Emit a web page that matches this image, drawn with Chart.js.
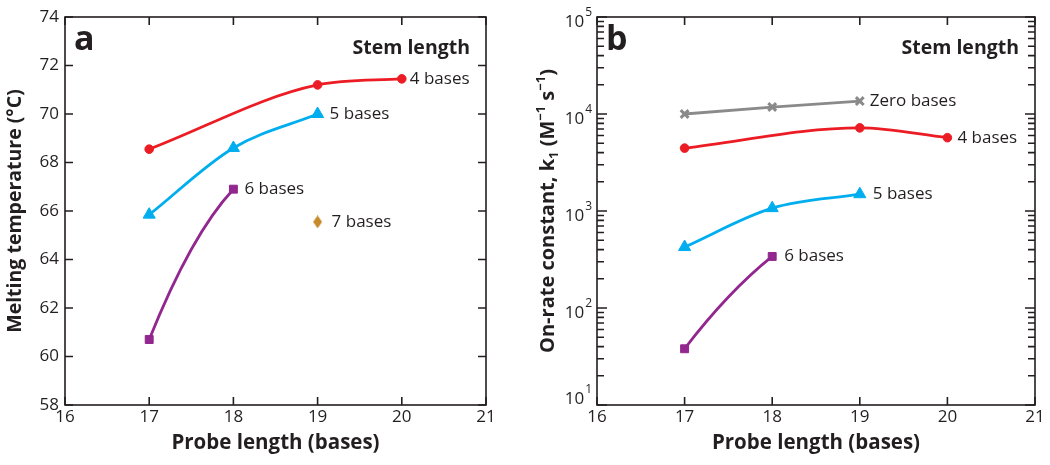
<!DOCTYPE html>
<html>
<head>
<meta charset="utf-8">
<script src="https://cdn.jsdelivr.net/npm/chart.js@4.4.1/dist/chart.umd.min.js"></script>
<style>
  html, body { margin: 0; padding: 0; background: #fff; }
  #wrap { position: relative; width: 1050px; height: 465px; }
  .panel { position: absolute; top: 0; width: 525px; height: 465px; }
</style>
</head>
<body>
<div id="wrap">
  <div class="panel" style="left:0"><canvas id="chartA" width="525" height="465"></canvas></div>
  <div class="panel" style="left:525px"><canvas id="chartB" width="525" height="465"></canvas></div>
</div>
<script>
// axis ticks
var probeTicks = [16, 17, 18, 19, 20, 21];
var tmTicks = [58, 60, 62, 64, 66, 68, 70, 72, 74];
var kTickExps = [1, 2, 3, 4, 5];

// panel a: melting temperature (°C) vs probe length
var tmX4 = [17, 19, 20],     tm4 = [68.55, 71.2, 71.45];
var tmX5 = [17, 18, 19],     tm5 = [65.85, 68.6, 70.0];
var tmX6 = [17, 18],         tm6 = [60.7, 66.9];
var tmX7 = [19],             tm7 = [65.55];

// panel b: on-rate constant k1 (M^-1 s^-1) vs probe length
var kX0 = [17, 18, 19],      k0 = [10000, 11800, 13600];
var kX4 = [17, 19, 20],      k4 = [4450, 7200, 5700];
var kX5 = [17, 18, 19],      k5 = [425, 1070, 1490];
var kX6 = [17, 18],          k6 = [38, 340];

var ink = '#231f20';
var red = '#ec1c24', blue = '#00aeef', purple = '#92278f', orange = '#c68a2b', gray = '#8a8a8a';
var FONT = "'Open Sans', 'Noto Sans', sans-serif";

function pts(xs, ys) {
    return xs.map(function (x, i) { return {x: x, y: ys[i]}; });
}

function diamond(color) {
    var c = document.createElement('canvas');
    c.width = 9; c.height = 13;
    var g = c.getContext('2d');
    g.fillStyle = color;
    g.beginPath();
    g.moveTo(4.5, 0); g.lineTo(9, 6.5); g.lineTo(4.5, 13); g.lineTo(0, 6.5);
    g.closePath();
    g.fill();
    return c;
}

function series(label, xs, ys, color, style, radius, extra) {
    var ds = {
        tag: label,
        data: pts(xs, ys),
        borderColor: color,
        backgroundColor: color,
        borderWidth: 2.8,
        pointStyle: style,
        pointRadius: radius,
        pointHoverRadius: radius,
        pointBackgroundColor: color,
        pointBorderColor: color,
        pointBorderWidth: 1,
        cubicInterpolationMode: 'monotone',
        tagDx: 10
    };
    for (var k in extra) ds[k] = extra[k];
    return ds;
}

// draws 2-point bent curves, the frame, inward ticks and text labels
var framePlugin = {
    id: 'frame',
    beforeDatasetsDraw: function (chart) {
        var ctx = chart.ctx;
        chart.data.datasets.forEach(function (ds, i) {
            if (!ds.bend) return;
            var p = chart.getDatasetMeta(i).data;
            var a = p[0], b = p[1];
            ctx.save();
            ctx.strokeStyle = ds.borderColor;
            ctx.lineWidth = ds.borderWidth;
            ctx.beginPath();
            ctx.moveTo(a.x, a.y);
            ctx.quadraticCurveTo(a.x + 0.5 * (b.x - a.x), a.y + ds.bend * (b.y - a.y), b.x, b.y);
            ctx.stroke();
            ctx.restore();
        });
    },
    afterDraw: function (chart, args, opts) {
        var ctx = chart.ctx, area = chart.chartArea;
        var xs = chart.scales.x, ys = chart.scales.y;
        ctx.save();
        ctx.strokeStyle = ink;
        ctx.lineWidth = 1.6;
        ctx.strokeRect(area.left, area.top, area.right - area.left, area.bottom - area.top);

        ctx.beginPath();
        xs.ticks.forEach(function (t) {
            var px = xs.getPixelForValue(t.value);
            ctx.moveTo(px, area.bottom); ctx.lineTo(px, area.bottom - 8);
            ctx.moveTo(px, area.top); ctx.lineTo(px, area.top + 8);
        });
        if (ys.type === 'logarithmic') {
            kTickExps.forEach(function (e) {
                for (var m = 1; m <= 9; m++) {
                    var v = m * Math.pow(10, e - 1);
                    if (m === 1) v = Math.pow(10, e);
                    if (v > ys.max || v < ys.min) continue;
                    var py = ys.getPixelForValue(v);
                    var len = m === 1 ? 10 : 7;
                    ctx.moveTo(area.left, py); ctx.lineTo(area.left + len, py);
                    ctx.moveTo(area.right, py); ctx.lineTo(area.right - len, py);
                }
            });
        } else {
            ys.ticks.forEach(function (t) {
                var py = ys.getPixelForValue(t.value);
                ctx.moveTo(area.left, py); ctx.lineTo(area.left + 8, py);
                ctx.moveTo(area.right, py); ctx.lineTo(area.right - 8, py);
            });
        }
        ctx.stroke();

        ctx.fillStyle = ink;
        // log tick labels 10^n
        if (ys.type === 'logarithmic') {
            kTickExps.forEach(function (e) {
                var py = ys.getPixelForValue(Math.pow(10, e));
                var y10 = Math.min(py + 5, area.bottom - 6);
                ctx.textBaseline = 'middle';
                ctx.font = '12px ' + FONT;
                var ew = ctx.measureText(String(e)).width;
                ctx.textAlign = 'left';
                ctx.fillText(String(e), area.left - 5 - ew, y10 - 9);
                ctx.textAlign = 'right';
                ctx.font = '17px ' + FONT;
                ctx.fillText('10', area.left - 6 - ew, y10);
            });
        }

        // series tags
        ctx.font = '17px ' + FONT;
        ctx.textAlign = 'left';
        ctx.textBaseline = 'middle';
        chart.data.datasets.forEach(function (ds, i) {
            var p = chart.getDatasetMeta(i).data;
            var last = p[p.length - 1];
            ctx.fillText(ds.tag, last.x + ds.tagDx, last.y);
        });

        ctx.font = 'bold 19.5px ' + FONT;
        ctx.textAlign = 'right';
        ctx.fillText('Stem length', area.right - 16, area.top + 31);

        ctx.font = 'bold 34px ' + FONT;
        ctx.textAlign = 'left';
        ctx.textBaseline = 'alphabetic';
        ctx.fillText(opts.letter, area.left + 9, area.top + 33);

        // rich y title
        if (opts.richTitle) {
            var parts = opts.richTitle;
            var total = 0;
            parts.forEach(function (pt) {
                ctx.font = 'bold ' + pt.size + 'px ' + FONT;
                pt.w = ctx.measureText(pt.t).width;
                total += pt.w;
            });
            ctx.translate(opts.richX, (area.top + area.bottom) / 2);
            ctx.rotate(-Math.PI / 2);
            ctx.textBaseline = 'middle';
            ctx.textAlign = 'left';
            var x = -total / 2;
            parts.forEach(function (pt) {
                ctx.font = 'bold ' + pt.size + 'px ' + FONT;
                ctx.fillText(pt.t, x, pt.dy || 0);
                x += pt.w;
            });
        }
        ctx.restore();
    }
};

function xScale() {
    return {
        type: 'linear', min: 16, max: 21,
        afterBuildTicks: function (s) { s.ticks = probeTicks.map(function (v) { return {value: v}; }); },
        ticks: {font: {family: FONT, size: 17}, color: ink, padding: 2, autoSkip: false, maxRotation: 0},
        grid: {display: false, drawTicks: false},
        border: {display: false},
        title: {display: true, text: 'Probe length (bases)', color: ink,
                font: {family: FONT, size: 20.5, weight: 'bold'}, padding: {top: 0, bottom: 10}},
        afterFit: function (s) { s.height = 60; }
    };
}

function makeChart(id, datasets, yCfg, pad, pluginOpts) {
    return new Chart(document.getElementById(id).getContext('2d'), {
        type: 'line',
        data: {datasets: datasets},
        options: {
            responsive: false,
            animation: false,
            layout: {padding: pad},
            plugins: {legend: {display: false}, tooltip: {enabled: false}, frame: pluginOpts},
            scales: {x: xScale(), y: yCfg}
        },
        plugins: [framePlugin]
    });
}

makeChart('chartA', [
    series('4 bases', tmX4, tm4, red, 'circle', 4.3, {tagDx: 8}),
    series('5 bases', tmX5, tm5, blue, 'triangle', 7, {tagDx: 12}),
    series('6 bases', tmX6, tm6, purple, 'rect', 5.6, {showLine: false, bend: 0.7, tagDx: 11}),
    series('7 bases', tmX7, tm7, orange, diamond(orange), 5, {showLine: false, tagDx: 14})
], {
    type: 'linear', min: 58, max: 74,
    afterBuildTicks: function (s) { s.ticks = tmTicks.map(function (v) { return {value: v}; }); },
    ticks: {font: {family: FONT, size: 17}, color: ink, padding: 6, autoSkip: false},
    grid: {display: false, drawTicks: false},
    border: {display: false},
    title: {display: true, text: 'Melting temperature (°C)', color: ink,
            font: {family: FONT, size: 19.5, weight: 'bold'}, padding: {top: 4, bottom: 0}},
    afterFit: function (s) { s.width = 65; }
}, {left: 0, top: 17, right: 39, bottom: 0}, {letter: 'a'});

makeChart('chartB', [
    series('Zero bases', kX0, k0, gray, 'crossRot', 5.5, {cubicInterpolationMode: 'default', tension: 0, pointBorderWidth: 3, tagDx: 10}),
    series('4 bases', kX4, k4, red, 'circle', 4.3, {tagDx: 10}),
    series('5 bases', kX5, k5, blue, 'triangle', 7, {tagDx: 13}),
    series('6 bases', kX6, k6, purple, 'rect', 5.6, {showLine: false, bend: 0.62, tagDx: 12})
], {
    type: 'logarithmic', min: 10, max: 100000,
    ticks: {display: false},
    grid: {display: false, drawTicks: false},
    border: {display: false},
    afterFit: function (s) { s.width = 72; }
}, {left: 0, top: 17, right: 15, bottom: 0}, {
    letter: 'b',
    richX: 23,
    richTitle: [
        {t: 'On-rate constant, k', size: 20},
        {t: '1', size: 13, dy: 6},
        {t: ' (M', size: 20},
        {t: '\u22121', size: 13, dy: -7},
        {t: ' s', size: 20},
        {t: '\u22121', size: 13, dy: -7},
        {t: ')', size: 20}
    ]
});
</script>
</body>
</html>
